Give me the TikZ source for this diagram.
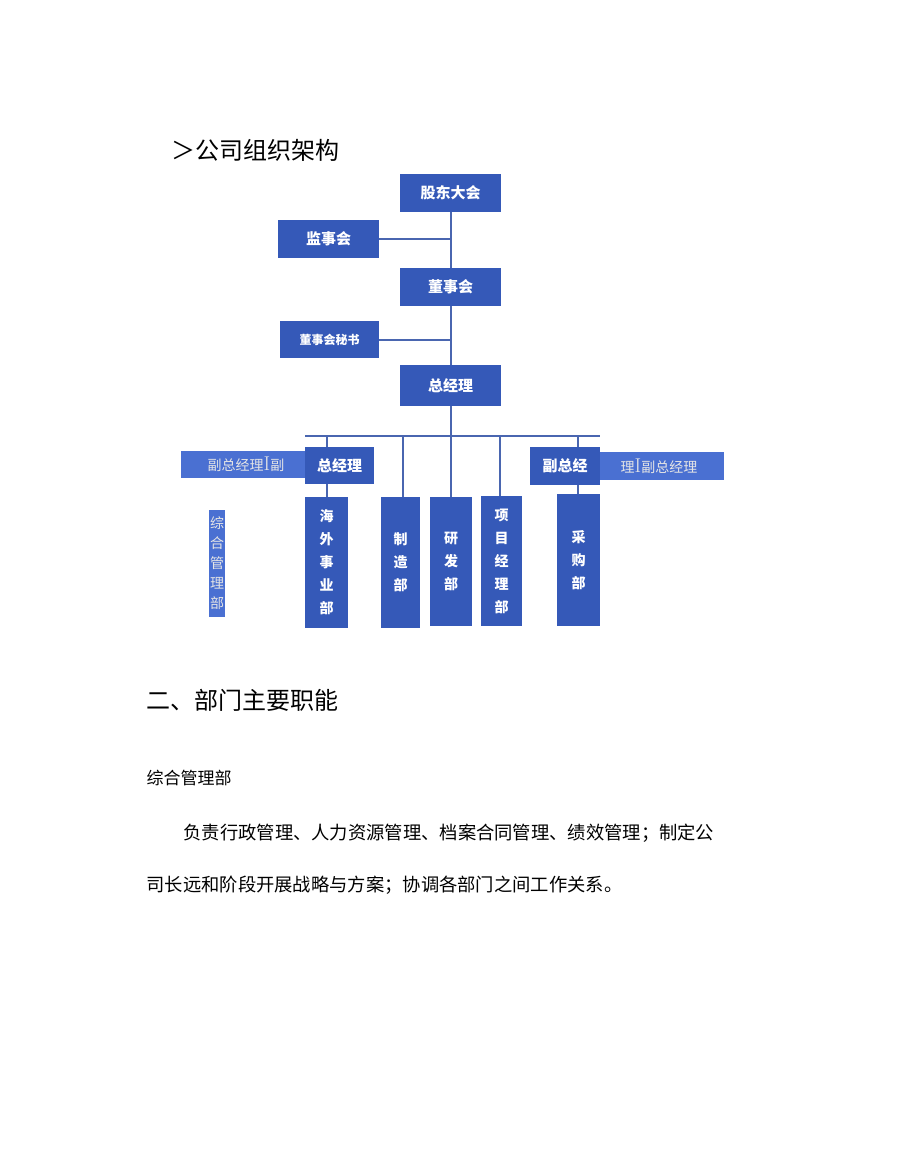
\documentclass[tikz,border=0pt]{standalone}
\usepackage{fontspec}
\newfontfamily\cjk{Noto Sans CJK SC}
\begin{document}
\begin{tikzpicture}[x=1pt,y=-1pt,
 box/.style={draw=none,fill=boxblue,text=white,font=\cjk\fontsize{15}{15}\selectfont\bfseries},
 strip/.style={fill=stripblue,text=black!10,font=\cjk\fontsize{14}{14}\selectfont},
 ln/.style={draw=lineblue,line width=1.6pt}]
\definecolor{boxblue}{HTML}{3559B8}
\definecolor{stripblue}{HTML}{4A70D2}
\definecolor{lineblue}{HTML}{4A66B0}
\useasboundingbox (0,0) rectangle (920,1174);
\fill[white] (0,0) rectangle (920,1174);
\node[anchor=west,font=\cjk\fontsize{24}{24}\selectfont] (title) at (168,150) {＞公司组织架构};
% top chart
\path[box] (400,174) rectangle (501,212) node[midway] (gd) {股东大会};
\path[box] (278,220) rectangle (379,258) node[midway] (js) {监事会};
\path[box] (400,268) rectangle (501,306) node[midway] (ds) {董事会};
\path[box] (280,321) rectangle (379,358) node[midway,font=\cjk\fontsize{12}{12}\selectfont\bfseries] (dm) {董事会秘书};
\path[box] (400,365) rectangle (501,406) node[midway] (zj) {总经理};
\coordinate (t1) at (451,212); \coordinate (t2) at (451,239); \coordinate (t3) at (451,268);
\coordinate (t4) at (451,306); \coordinate (t5) at (451,340); \coordinate (t6) at (451,365);
\coordinate (t7) at (451,406); \coordinate (t8) at (451,436);
\draw[ln] (t1)--(t3) (t4)--(t6) (t7)--(t8);
\draw[ln] (379,239)--(t2) (379,340)--(t5);
% bottom chart
\coordinate (bl) at (305,436); \coordinate (br) at (600,436);
\draw[ln] (bl)--(br);
\path[strip] (181,451) rectangle (305,478) node[midway,xshift=3pt] (sl) {副总经理\textrm{\fontsize{20}{20}\selectfont I}副};
\path[strip] (600,452) rectangle (724,480) node[midway,xshift=-3pt] (sr) {理\textrm{\fontsize{20}{20}\selectfont I}副总经理};
\path[box] (305,447) rectangle (374,484) node[midway] (zj2) {总经理};
\path[box] (530,447) rectangle (600,485) node[midway] (fz) {副总经};
\path[strip] (209,510) rectangle (225,617) node[midway,align=center,font=\cjk\fontsize{14}{20}\selectfont] (zh) {综\\合\\管\\理\\部};
\tikzset{vb/.style={box,font=\cjk\fontsize{14}{23}\selectfont\bfseries,align=center}}
\path[box] (305,497) rectangle (348,628) node[midway,vb] (hw) {海\\外\\事\\业\\部};
\path[box] (381,497) rectangle (420,628) node[midway,vb] (zz) {制\\造\\部};
\path[box] (430,497) rectangle (472,626) node[midway,vb] (yf) {研\\发\\部};
\path[box] (481,496) rectangle (522,626) node[midway,vb] (xm) {项\\目\\经\\理\\部};
\path[box] (557,494) rectangle (600,626) node[midway,vb] (cg) {采\\购\\部};
\foreach \x/\y in {327/447,403/497,451/497,500/496,578/447}{\draw[ln] (\x,436)--(\x,\y);}
\draw[ln] (327,484)--(327,497) (578,485)--(578,494);
% text
\node[anchor=west,font=\cjk\fontsize{24}{24}\selectfont] (h2) at (143,700) {二、部门主要职能};
\node[anchor=west,font=\cjk\fontsize{17}{17}\selectfont] (h3) at (143,778) {综合管理部};
\node[anchor=west,font=\cjk\fontsize{18.3}{19}\selectfont] (p1) at (180,833) {负责行政管理、人力资源管理、档案合同管理、绩效管理；制定公};
\node[anchor=west,font=\cjk\fontsize{18.3}{19}\selectfont] (p2) at (143,885) {司长远和阶段开展战略与方案；协调各部门之间工作关系。};
\end{tikzpicture}
\end{document}
